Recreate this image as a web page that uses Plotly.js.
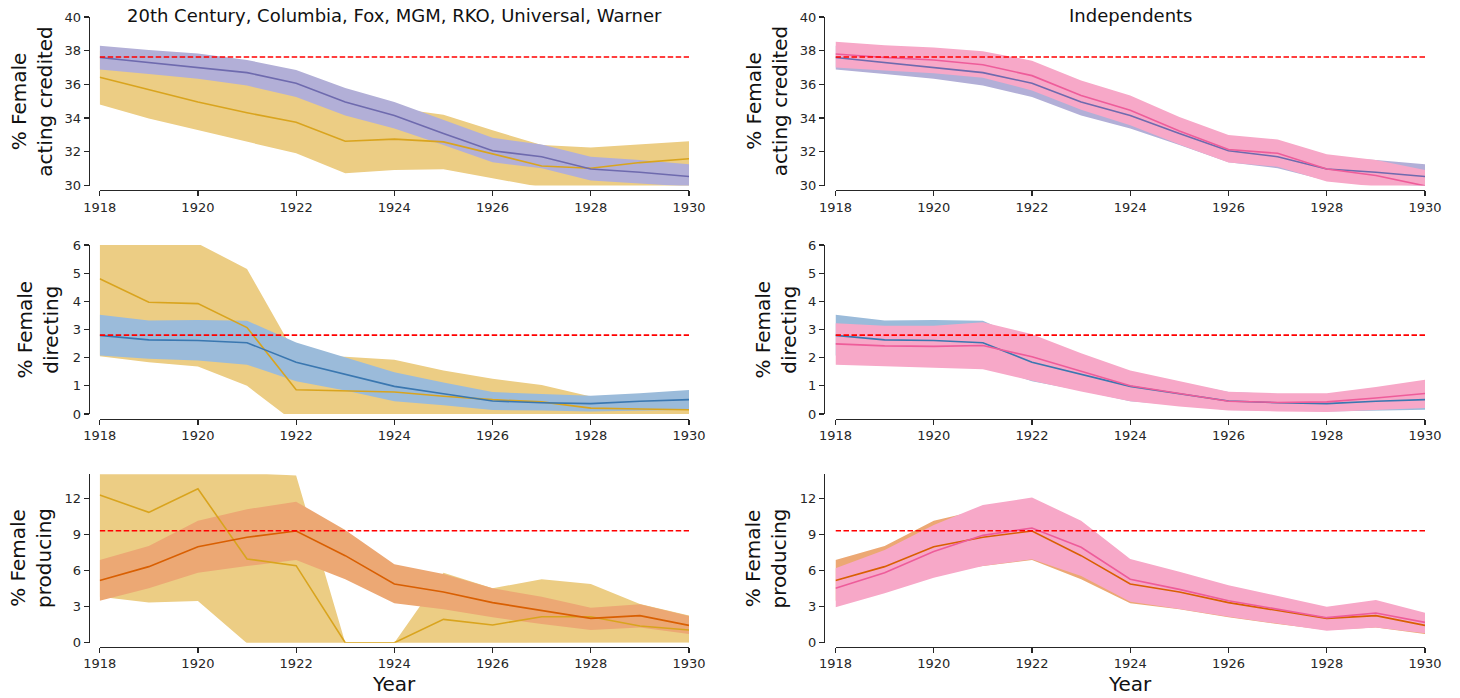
<!DOCTYPE html>
<html><head><meta charset="utf-8">
<script src="https://cdn.plot.ly/plotly-3.0.1.min.js"></script>
<style>html,body{margin:0;padding:0;background:#fff}#chart{width:1460px;height:698px}</style>
</head><body><div id="chart"></div>
<script>
// ---------- DATA ----------
const years = [1918,1919,1920,1921,1922,1923,1924,1925,1926,1927,1928,1929,1930];

const colTitles = ["20th Century, Columbia, Fox, MGM, RKO, Universal, Warner", "Independents"];
const rowTitles = ["% Female<br>acting credited", "% Female<br>directing", "% Female<br>producing"];
const xTitle = "Year";

// Acting credited
const actAllMean = [37.6,37.31,37.01,36.7,36.07,34.95,34.16,33.08,32.06,31.71,30.98,30.79,30.53];
const actAllHigh = [38.29,38.04,37.84,37.45,36.86,35.78,34.95,33.87,32.83,32.44,31.71,31.51,31.26];
const actAllLow  = [36.88,36.62,36.33,35.93,35.25,34.16,33.38,32.4,31.38,31.02,30.29,30.1,29.94];
const actMajMean = [36.42,35.68,34.95,34.32,33.75,32.63,32.75,32.59,31.87,31.16,31.02,31.36,31.59];
const actMajHigh = [38.0,37.7,37.3,36.9,36.2,34.6,34.6,34.2,33.28,32.4,32.26,32.46,32.63];
const actMajLow  = [34.81,33.97,33.28,32.59,31.91,30.73,30.92,30.96,30.43,29.9,29.7,29.5,29.6];
const actIndMean = [37.8,37.6,37.45,37.17,36.52,35.34,34.46,33.24,32.14,31.91,30.98,30.59,29.98];
const actIndHigh = [38.53,38.33,38.19,37.96,37.41,36.23,35.34,34.07,32.99,32.73,31.85,31.51,30.92];
const actIndLow  = [37.01,36.82,36.66,36.39,35.64,34.5,33.58,32.44,31.36,31.12,30.24,29.94,29.55];
const actRef = 37.63;

// Directing
const dirAllMean = [2.79,2.63,2.61,2.53,1.84,1.42,0.98,0.72,0.46,0.4,0.37,0.45,0.51];
const dirAllHigh = [3.52,3.32,3.34,3.31,2.54,2.0,1.48,1.12,0.78,0.71,0.65,0.74,0.85];
const dirAllLow  = [2.08,1.96,1.9,1.75,1.16,0.83,0.45,0.31,0.14,0.12,0.09,0.13,0.15];
const dirMajMean = [4.8,3.97,3.92,3.07,0.86,0.83,0.78,0.63,0.51,0.43,0.21,0.18,0.15];
const dirMajHigh = [7.2,6.5,6.05,5.15,2.08,2.03,1.93,1.54,1.25,1.03,0.62,0.45,0.45];
const dirMajLow  = [2.05,1.84,1.69,1.0,-0.33,-0.2,-0.2,-0.15,-0.1,-0.1,-0.05,-0.05,-0.05];
const dirIndMean = [2.49,2.42,2.4,2.43,2.03,1.51,1.0,0.73,0.45,0.41,0.43,0.57,0.73];
const dirIndHigh = [3.22,3.13,3.13,3.26,2.83,2.16,1.54,1.16,0.79,0.74,0.74,0.96,1.22];
const dirIndLow  = [1.75,1.7,1.65,1.59,1.18,0.8,0.45,0.27,0.12,0.09,0.07,0.14,0.21];
const dirRef = 2.8;

// Producing
const prodAllMean = [5.16,6.32,7.98,8.76,9.28,7.23,4.88,4.21,3.33,2.66,2.02,2.25,1.44];
const prodAllHigh = [6.87,8.04,10.14,11.09,11.72,9.37,6.51,5.71,4.52,3.82,2.91,3.19,2.22];
const prodAllLow  = [3.49,4.52,5.82,6.37,6.87,5.27,3.27,2.77,2.11,1.55,1.05,1.27,0.72];
const prodMajMean = [12.28,10.83,12.78,6.96,6.4,0,0,1.94,1.47,2.16,2.16,1.39,1.05];
const prodMajHigh = [19.5,17.0,19.5,14.1,13.89,0,0,5.82,4.52,5.27,4.88,3.22,2.25];
const prodMajLow  = [3.82,3.33,3.46,-0.05,0,0,0,0,0,0,0,0,0];
const prodIndMean = [4.52,5.82,7.57,8.92,9.53,7.93,5.27,4.43,3.49,2.8,2.08,2.47,1.69];
const prodIndHigh = [6.18,7.7,9.78,11.45,12.06,10.14,6.96,5.9,4.77,3.91,2.99,3.55,2.49];
const prodIndLow  = [2.94,4.1,5.4,6.37,6.93,5.54,3.41,2.8,2.16,1.55,1.0,1.27,0.78];
const prodRef = 9.3;

// ---------- STYLE / LAYOUT ----------
const W = 1460, H = 698;
const px = v => v / W;
const py = v => 1 - v / H;
const FONT = "DejaVu Sans";
const AX = "#262626";

const C = {
  purple: {line: "#6e6aae", band: "#b2afd7"},
  blue:   {line: "#3a77b0", band: "#9bbbda"},
  orange: {line: "#d95f02", band: "#eca874"},
  gold:   {line: "#d9a41e", band: "#eccd84"},
  pink:   {line: "#ee5c9a", band: "#f7a8c8"}
};

const colX = [{dom: [99.7, 689], spine: 88.7}, {dom: [835.5, 1425], spine: 824}];
const rowY = [
  {top: 17, bot: 185.5, spine: 190, range: [30, 40], dtick: 2, all: C.purple,
   all3: [actAllMean, actAllLow, actAllHigh], maj: [actMajMean, actMajLow, actMajHigh], ind: [actIndMean, actIndLow, actIndHigh], ref: actRef},
  {top: 245, bot: 414, spine: 418.5, range: [0, 6], dtick: 1, all: C.blue,
   all3: [dirAllMean, dirAllLow, dirAllHigh], maj: [dirMajMean, dirMajLow, dirMajHigh], ind: [dirIndMean, dirIndLow, dirIndHigh], ref: dirRef},
  {top: 474.2, bot: 642.7, spine: 646.5, range: [0, 14], dtick: 3, all: C.orange,
   all3: [prodAllMean, prodAllLow, prodAllHigh], maj: [prodMajMean, prodMajLow, prodMajHigh], ind: [prodIndMean, prodIndLow, prodIndHigh], ref: prodRef}
];
const yTitleX = [[32.5, 767], [37, 775], [31.5, 766]];

const traces = [];
const layout = {
  width: W, height: H, margin: {l: 0, r: 0, t: 0, b: 0},
  paper_bgcolor: "#fff", plot_bgcolor: "rgba(0,0,0,0)",
  showlegend: false, annotations: [],
  font: {family: FONT, color: AX}
};

function band(xa, ya, low, high, color) {
  traces.push({
    type: "scatter", mode: "lines", xaxis: xa, yaxis: ya,
    x: years.concat(years.slice().reverse()),
    y: high.concat(low.slice().reverse()),
    fill: "toself", fillcolor: color, line: {width: 0, color: color},
    hoverinfo: "skip"
  });
}
function line(xa, ya, y, color) {
  traces.push({type: "scatter", mode: "lines", xaxis: xa, yaxis: ya, x: years, y: y,
    line: {color: color, width: 1.6}, hoverinfo: "skip"});
}

let p = 0;
rowY.forEach((r, ri) => {
  colX.forEach((c, ci) => {
    p++;
    const xa = "x" + (p === 1 ? "" : p), ya = "y" + (p === 1 ? "" : p);
    const xk = "xaxis" + (p === 1 ? "" : p), yk = "yaxis" + (p === 1 ? "" : p);
    const other = ci === 0 ? {s: r.maj, col: C.gold} : {s: r.ind, col: C.pink};
    if (ci === 0) {
      band(xa, ya, other.s[1], other.s[2], other.col.band);
      band(xa, ya, r.all3[1], r.all3[2], r.all.band);
      line(xa, ya, other.s[0], other.col.line);
      line(xa, ya, r.all3[0], r.all.line);
    } else {
      band(xa, ya, r.all3[1], r.all3[2], r.all.band);
      band(xa, ya, other.s[1], other.s[2], other.col.band);
      line(xa, ya, r.all3[0], r.all.line);
      line(xa, ya, other.s[0], other.col.line);
    }
    traces.push({type: "scatter", mode: "lines", xaxis: xa, yaxis: ya,
      x: [years[0], years[years.length - 1]], y: [r.ref, r.ref],
      line: {color: "#ff0000", width: 1.6, dash: "5.5px,2.5px"}, hoverinfo: "skip"});

    layout[xk] = {
      domain: [px(c.dom[0]), px(c.dom[1])], range: [1918, 1930],
      anchor: "free", position: py(r.spine),
      showline: true, linecolor: AX, linewidth: 1.25,
      ticks: "outside", ticklen: 5, tickwidth: 1.25, tickcolor: AX,
      tick0: 1918, dtick: 2, showgrid: false, zeroline: false,
      tickfont: {family: FONT, size: 13, color: AX}
    };
    layout[yk] = {
      domain: [py(r.bot), py(r.top)], range: r.range,
      anchor: "free", position: px(c.spine),
      showline: true, linecolor: AX, linewidth: 1.25,
      ticks: "outside", ticklen: 5, tickwidth: 1.25, tickcolor: AX,
      tick0: r.range[0], dtick: r.dtick, showgrid: false, zeroline: false,
      tickfont: {family: FONT, size: 13, color: AX}
    };
    layout.annotations.push({
      text: rowTitles[ri], xref: "paper", yref: "paper",
      x: px(yTitleX[ri][ci]), y: py((r.top + r.bot) / 2),
      xanchor: "center", yanchor: "middle", textangle: -90, showarrow: false,
      font: {family: FONT, size: 20, color: "#111"}
    });
    if (ri === 0) {
      layout.annotations.push({
        text: colTitles[ci], xref: "paper", yref: "paper",
        x: px((c.dom[0] + c.dom[1]) / 2), y: py(16),
        xanchor: "center", yanchor: "middle", showarrow: false,
        font: {family: FONT, size: 18, color: "#111"}
      });
    }
    if (ri === 2) {
      layout.annotations.push({
        text: xTitle, xref: "paper", yref: "paper",
        x: px((c.dom[0] + c.dom[1]) / 2), y: py(684),
        xanchor: "center", yanchor: "middle", showarrow: false,
        font: {family: FONT, size: 20, color: "#111"}
      });
    }
  });
});

Plotly.newPlot("chart", traces, layout, {displayModeBar: false, staticPlot: true});
</script></body></html>
